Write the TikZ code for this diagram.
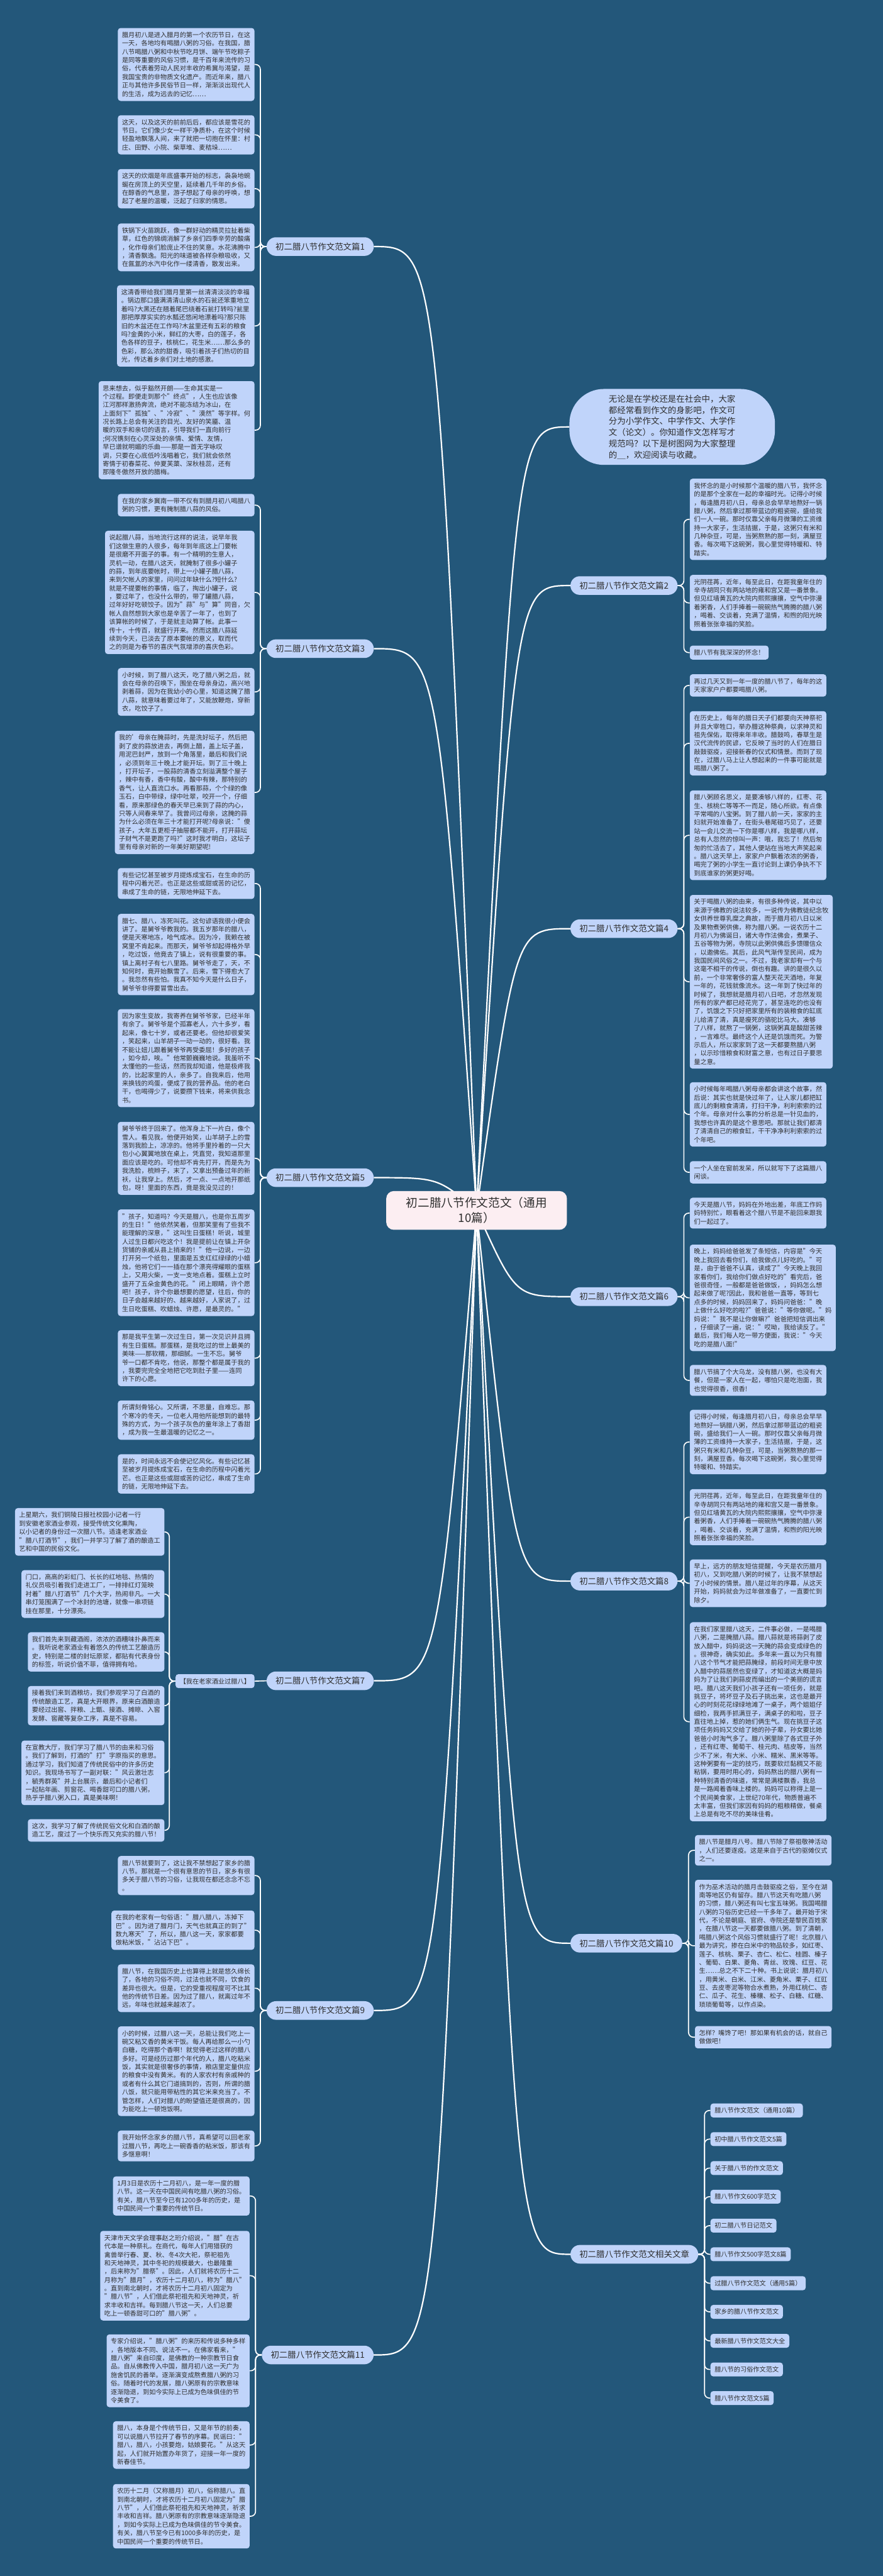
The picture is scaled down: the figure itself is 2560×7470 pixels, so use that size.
\documentclass[tikz,border=0pt]{standalone}
\usepackage{fontspec}
\setmainfont{Noto Sans CJK SC}
\usetikzlibrary{positioning}
\definecolor{bgblue}{HTML}{23577A}
\definecolor{leafblue}{HTML}{C0D4FA}
\definecolor{rootpink}{HTML}{FCEEF2}
\definecolor{ink}{HTML}{2E2E2E}
\pgfdeclarelayer{back}
\pgfsetlayers{back,main}
\tikzset{
  leaf/.style={fill=leafblue, rounded corners=8pt, align=left, inner xsep=12pt,
    inner ysep=11.5pt, text=ink, font=\fontsize{18.6}{24.4}\selectfont},
  branch/.style={fill=leafblue, rounded corners=27pt, minimum height=54pt,
    inner xsep=26pt, inner ysep=0pt, text=ink, font=\fontsize{24.5}{30}\selectfont},
  root/.style={fill=rootpink, rounded corners=22pt, text width=420pt, align=center,
    inner xsep=52pt, inner ysep=18pt, text=ink, font=\fontsize{34}{44}\selectfont},
  link/.style={draw=white, line width=4pt},
  twig/.style={draw=white, line width=3pt, rounded corners=14pt},
}

\begin{document}
\begin{tikzpicture}[x=1pt,y=-1pt]
\useasboundingbox (0,0) rectangle (2560,7470);

% centre and first level
\node[root] (R) at (1382,3510) {初二腊八节作文范文（通用\\10篇）};
\node[fill=leafblue, rounded corners=100pt, text width=368pt, align=left,
  inner xsep=114pt, inner ysep=17pt, text=ink, font=\fontsize{24.5}{32.5}\selectfont,
  anchor=west] (I) at (1651,1238)
  {无论是在学校还是在社会中，大家\\都经常看到作文的身影吧，作文可\\分为小学作文、中学作文、大学作\\文（论文）。你知道作文怎样写才\\规范吗？以下是树图网为大家整理\\的＿，欢迎阅读与收藏。};

\node[branch, anchor=west] (B1)  at (773,715)  {初二腊八节作文范文篇1};
\node[branch, anchor=west] (B3)  at (773,1881) {初二腊八节作文范文篇3};
\node[branch, anchor=west] (B5)  at (773,3415) {初二腊八节作文范文篇5};
\node[branch, anchor=west] (B7)  at (773,4874) {初二腊八节作文范文篇7};
\node[branch, anchor=west] (B9)  at (773,5830) {初二腊八节作文范文篇9};
\node[branch, anchor=west] (B11) at (759,6829) {初二腊八节作文范文篇11};
\node[branch, anchor=west] (B2)  at (1654,1698) {初二腊八节作文范文篇2};
\node[branch, anchor=west] (B4)  at (1654,2693) {初二腊八节作文范文篇4};
\node[branch, anchor=west] (B6)  at (1654,3760) {初二腊八节作文范文篇6};
\node[branch, anchor=west] (B8)  at (1654,4585) {初二腊八节作文范文篇8};
\node[branch, anchor=west] (B10) at (1654,5635) {初二腊八节作文范文篇10};
\node[branch, anchor=west] (BX)  at (1654,6537) {初二腊八节作文范文相关文章};

% essay 1
\node[leaf, anchor=north east] (L1a) at (738,81) {腊月初八是进入腊月的第一个农历节日，在这\\一天，各地均有喝腊八粥的习俗。在我国，腊\\八节喝腊八粥和中秋节吃月饼、端午节吃粽子\\是同等重要的风俗习惯，是千百年来流传的习\\俗，代表着劳动人民对丰收的希冀与渴望，是\\我国宝贵的非物质文化遗产。而近年来，腊八\\正与其他许多民俗节日一样，渐渐淡出现代人\\的生活，成为远去的记忆……};
\node[leaf, anchor=north east] (L1b) at (738,334) {这天，以及这天的前前后后，都应该是雪花的\\节日。它们像少女一样干净质朴，在这个时候\\轻盈地飘落人间，来了就把一切抱在怀里：村\\庄、田野、小院、柴草堆、麦秸垛……};
\node[leaf, anchor=north east] (L1c) at (738,490) {这天的炊烟是年底盛事开始的标志，袅袅地蜿\\蜒在房顶上的天空里，延续着几千年的乡俗。\\在醇香的气息里，游子想起了母亲的呼唤，想\\起了老屋的温暖，泛起了归家的情思。};
\node[leaf, anchor=north east] (L1d) at (738,648) {铁锅下火苗跳跃，像一群好动的精灵拉扯着柴\\草，红色的锦绸消解了乡亲们四季辛劳的酸痛\\，化作母亲们脸庞止不住的笑意。水花沸腾中\\，清香飘逸。阳光的味道被各样杂粮吸收，又\\在氤氲的水汽中化作一缕清香，散发出来。};
\node[leaf, anchor=north east] (L1e) at (738,827) {这清香带给我们腊月里第一丝清清淡淡的幸福\\。锅边那口盛满清清山泉水的石瓮还笨重地立\\着吗?大黑还在翘着尾巴绕着石瓮打转吗?瓮里\\那把厚厚实实的水瓢还悠闲地漂着吗?那只陈\\旧的木盆还在工作吗?木盆里还有五彩的粮食\\吗?金黄的小米，鲜红的大枣，白的莲子，各\\色各样的豆子，核桃仁，花生米……那么多的\\色彩，那么浓的甜香，吸引着孩子们热切的目\\光，传达着乡亲们对土地的感激。};
\node[leaf, anchor=north east] (L1f) at (738,1105) {思来想去，似乎豁然开朗——生命其实是一\\个过程。即便走到那个"终点"，人生也应该像\\江河那样激扬奔流，绝对不能冻结为冰山，在\\上面刻下"孤独"、"冷寂"、"漠然"等字样。何\\况长路上总会有关注的目光、友好的笑靥、温\\暖的双手和亲切的语言，引导我们一直向前行\\;何况镌刻在心灵深处的亲情、爱情、友情，\\早已谱就明媚的乐曲——那是一首无字咏叹\\调，只要在心底低吟浅唱着它，我们就会依然\\寄情于初春菜花、仲夏芙蕖、深秋桂蕊，还有\\那隆冬傲然开放的腊梅。};

% essay 3
\node[leaf, anchor=north east] (L3a) at (738,1432) {在我的家乡冀南一带不仅有到腊月初八喝腊八\\粥的习惯，更有腌制腊八蒜的风俗。};
\node[leaf, anchor=north east] (L3b) at (738,1539) {说起腊八蒜，当地流行这样的说法，说早年我\\们这做生意的人很多，每年到年底这上门要帐\\是很磨不开面子的事。有一个精明的生意人，\\灵机一动，在腊八这天，就腌制了很多小罐子\\的蒜，到年底要帐时，带上一小罐子腊八蒜，\\来到欠帐人的家里，问问过年缺什么?短什么?\\就是不提要帐的事情，临了，掏出小罐子，说\\，要过年了，也没什么带的，带了罐腊八蒜，\\过年好好吃顿饺子。因为"蒜"与"算"同音，欠\\帐人自然想到大家也是辛苦了一年了，也到了\\该算帐的时候了，于是就主动算了帐。此事一\\传十，十传百，就盛行开来。然而这腊八蒜延\\续到今天，已淡去了原本要帐的意义，取而代\\之的则是为春节的喜庆气氛增添的喜庆色彩。};
\node[leaf, anchor=north east] (L3c) at (738,1937) {小时候，到了腊八这天，吃了腊八粥之后，就\\会在母亲的召唤下，围坐在母亲身边，高兴地\\剥着蒜，因为在我幼小的心里，知道这腌了腊\\八蒜，就意味着要过年了，又能放鞭炮，穿新\\衣，吃饺子了。};
\node[leaf, anchor=north east] (L3d) at (738,2119) {我的'母亲在腌蒜时，先是洗好坛子，然后把\\剥了皮的蒜放进去，再倒上醋，盖上坛子盖，\\用泥巴封严，放到一个角落里，最后和我们说\\，必须到年三十晚上才能开坛。到了三十晚上\\，打开坛子，一股蒜的清香立刻溢满整个屋子\\，辣中有香，香中有酸，酸中有辣，那特别的\\香气，让人直流口水。再看那蒜，个个绿的像\\玉石，白中带绿，绿中吐翠，咬开一个，仔细\\看，原来那绿色的春天早已来到了蒜的内心，\\只等人间春来早了。我曾问过母亲，这腌的蒜\\为什么必须在年三十才能打开呢?母亲说："傻\\孩子，大年五更柜子抽屉都不能开，打开蒜坛\\子财气不是更跑了吗?"这时我才明白，这坛子\\里有母亲对新的一年美好期望呢!};

% essay 5
\node[leaf, anchor=north east] (L5a) at (738,2517) {有些记忆甚至被岁月提炼成宝石，在生命的历\\程中闪着光芒。也正是这些或甜或苦的记忆，\\串成了生命的链，无限地伸延下去。};
\node[leaf, anchor=north east] (L5b) at (738,2650) {腊七、腊八，冻死叫花。这句谚语我很小便会\\讲了。是舅爷爷教我的。我五岁那年的腊八，\\便是天寒地冻，哈气成冰。因为冷，我赖在被\\窝里不肯起来。而那天，舅爷爷却起得格外早\\，吃过饭，他竟去了镇上，说有很重要的事。\\镇上离村子有七八里路。舅爷爷走了，天，不\\知何时，竟开始飘雪了。后来，雪下得愈大了\\。我忽然有些怕。我真不知今天是什么日子，\\舅爷爷非得要冒雪出去。};
\node[leaf, anchor=north east] (L5c) at (738,2926) {因为家生变故，我寄养在舅爷爷家，已经半年\\有余了。舅爷爷是个孤寡老人，六十多岁，看\\起来，像七十岁，或者还要老。但他却很爱笑\\，笑起来，山羊胡子一动一动的，很好看。我\\不能让妞儿跟着舅爷爷再受委屈！多好的孩子\\，如今却，唉。"他常颤巍巍地说。我虽听不\\太懂他的一些话，然而我却知道，他是极疼我\\的，比起家里的人，亲多了。自我来后，他用\\来换钱的鸡蛋，便成了我的营养品。他的老白\\干，也喝得少了，说要攒下钱来，将来供我念\\书。};
\node[leaf, anchor=north east] (L5d) at (738,3253) {舅爷爷终于回来了。他浑身上下一片白，像个\\雪人。看见我，他便开始笑，山羊胡子上的雪\\落到我脸上，凉凉的。他将手里拎着的一只大\\包小心翼翼地放在桌上，凭直觉，我知道那里\\面应该是吃的。可他却不肯先打开，而是先为\\我洗脸，梳辫子，末了，又拿出预备过年的新\\袄，让我穿上。然后，才一点、一点地开那纸\\包，呀！里面的东西，竟是我没见过的！};
\node[leaf, anchor=north east] (L5e) at (738,3507) {"孩子，知道吗？今天是腊八，也是你五周岁\\的生日！"他依然笑着，但那笑里有了些我不\\能理解的深意，"这叫生日蛋糕！听说，城里\\人过生日都兴吃这个！我是提前让在镇上开杂\\货铺的亲戚从县上捎来的！"他一边说，一边\\打开另一个纸包，里面是五支红红绿绿的小蜡\\烛，他将它们一一插在那个漂亮得耀眼的蛋糕\\上，又用火柴，一支一支地点着。蛋糕上立时\\盛开了五朵金黄色的花。"闭上眼睛，许个愿\\吧！孩子，许个你最想要的愿望，往后，你的\\日子会越来越好的、越来越好，人家说了，过\\生日吃蛋糕、吹蜡烛、许愿，是最灵的。"};
\node[leaf, anchor=north east] (L5f) at (738,3857) {那是我平生第一次过生日，第一次见识并且拥\\有生日蛋糕。那蛋糕，是我吃过的世上最美的\\美味——那软糯，那细腻。一生不忘。舅爷\\爷一口都不肯吃，他说，那整个都是属于我的\\，我要完完全全地把它吃到肚子里——连同\\许下的心愿。};
\node[leaf, anchor=north east] (L5g) at (738,4061) {所谓刻骨铭心。又所谓，不思量，自难忘。那\\个寒冷的冬天，一位老人用他所能想到的最特\\殊的方式，为一个孩子灰色的童年涂上了香甜\\，成为我一生最温暖的记忆之一。};
\node[leaf, anchor=north east] (L5h) at (738,4217) {是的，时间永远不会使记忆风化。有些记忆甚\\至被岁月提炼成宝石，在生命的历程中闪着光\\芒。也正是这些或甜或苦的记忆，串成了生命\\的链，无限地伸延下去。};

% essay 7
\node[leaf, anchor=east] (S7) at (738,4875) {【我在老家酒业过腊八】};
\node[leaf, anchor=north east] (L7a) at (477,4373) {上星期六，我们铜陵日报社校园小记者一行\\到安徽老家酒业参观，接受传统文化熏陶，\\以小记者的身份过一次腊八节。适逢老家酒业\\"腊八打酒节"，我们一并学习了解了酒的酿造工\\艺和中国的民俗文化。};
\node[leaf, anchor=north east] (L7b) at (477,4553) {门口，高高的彩虹门、长长的红地毯、热情的\\礼仪员吸引着我们走进工厂，一排排红灯笼映\\衬着"腊八打酒节"几个大字，热闹非凡。一大\\串灯笼围满了一个冰封的池塘，就像一串项链\\挂在那里，十分漂亮。};
\node[leaf, anchor=north east] (L7c) at (477,4733) {我们首先来到藏酒阁，浓浓的酒糟味扑鼻而来\\。我听说老家酒业有着悠久的传统工艺酿造历\\史，特别是二楼的封坛原浆，都贴有代表身份\\的标签，听说价值不菲，值得拥有哈。};
\node[leaf, anchor=north east] (L7d) at (477,4889) {接着我们来到酒粮坊，我们参观学习了白酒的\\传统酿造工艺，真是大开眼界，原来白酒酿造\\要经过出窖、拌粮、上甑、接酒、摊晾、入窖\\发酵、窖藏等复杂工序，真是不容易。};
\node[leaf, anchor=north east] (L7e) at (477,5047) {在宣教大厅，我们学习了腊八节的由来和习俗\\。我们了解到，打酒的"打"字原指买的意思。\\通过学习，我们知道了传统民俗中的许多历史\\知识。我现场书写了一副对联："风云激壮志\\，毓秀群英"并上台展示，最后和小记者们\\一起贴年画、剪窗花、喝香甜可口的腊八粥，\\热乎乎腊八粥入口，真是美味啊！};
\node[leaf, anchor=north east] (L7f) at (477,5275) {这次，我学习了解了传统民俗文化和白酒的酿\\造工艺，度过了一个快乐而又充实的腊八节！};

% essay 9
\node[leaf, anchor=north east] (L9a) at (738,5382) {腊八节就要到了，这让我不禁想起了家乡的腊\\八节。那就是一个很有意思的节日，家乡有很\\多关于腊八节的习俗，让我现在都还念念不忘\\。};
\node[leaf, anchor=north east] (L9b) at (738,5540) {在我的老家有一句俗语："腊八腊八，冻掉下\\巴"。因为进了腊月门，天气也就真正的到了"\\数九寒天"了，所以，腊八这一天，家家都要\\做粘米饭，"沾沾下巴"。};
\node[leaf, anchor=north east] (L9c) at (738,5696) {腊八节，在我国历史上也算得上就是悠久绵长\\了，各地的习俗不同，过法也就不同，饮食的\\差异也很大。但是，它的受重视程度可不比其\\他的传统节日差。因为过了腊八，就离过年不\\远，年味也就越来越浓了。};
\node[leaf, anchor=north east] (L9d) at (738,5876) {小的时候，过腊八这一天，总能让我们吃上一\\碗又粘又香的黄米干饭。每人再给那么一小勺\\白糖，吃得那个香啊！就觉得老过这样的腊八\\多好。可是经历过那个年代的人，腊八吃粘米\\饭，其实就是很奢侈的事情，粮店里定量供应\\的粮食中没有黄米。有的人家农村有亲戚种的\\或者有什么其它门道搞到的，否则，所谓的腊\\八饭，就只能用带粘性的其它米来充当了。不\\管怎样，人们对腊八的盼望值还是很高的，因\\为能吃上一顿饱饭啊。};
\node[leaf, anchor=north east] (L9e) at (738,6178) {我开始怀念家乡的腊八节，真希望可以回老家\\过腊八节，再吃上一碗香香的粘米饭，那该有\\多惬意啊！};

% essay 11
\node[leaf, anchor=north east] (L11a) at (724,6311) {1月3日是农历十二月初八，是一年一度的腊\\八节。这一天在中国民间有吃腊八粥的习俗。\\有关，腊八节至今已有1200多年的历史，是\\中国民间一个重要的传统节日。};
\node[leaf, anchor=north east] (L11b) at (724,6469) {天津市天文学会理事赵之珩介绍说，"腊"在古\\代本是一种祭礼。在商代，每年人们用猎获的\\禽兽举行春、夏、秋、冬4次大祀，祭祀祖先\\和天地神灵，其中冬祀的规模最大，也最隆重\\，后来称为"腊祭"。因此，人们就将农历十二\\月称为"腊月"，农历十二月初八，称为"腊八"\\。直到南北朝时，才将农历十二月初八固定为\\"腊八节"，人们借此祭祀祖先和天地神灵，祈\\求丰收和吉祥。每到腊八节这一天，人们总要\\吃上一顿香甜可口的"腊八粥"。};
\node[leaf, anchor=north east] (L11c) at (724,6769) {专家介绍说，"腊八粥"的来历和传说多种多样\\，各地版本不同、说法不一。在佛家看来，"\\腊八粥"来自印度，是佛教的一种宗教节日食\\品。自从佛教传入中国，腊月初八这一天广为\\施舍饥民的善举。逐渐演变成熬煮腊八粥的习\\俗。随着时代的发展，腊八粥原有的宗教意味\\逐渐隐退，到如今实际上已成为色味俱佳的节\\令美食了。};
\node[leaf, anchor=north east] (L11d) at (724,7021) {腊八，本身是个传统节日，又是年节的前奏，\\可以说腊八节拉开了春节的序幕。民谣曰："\\腊八，腊八，小孩要炮，姑娘要花。"从这天\\起，人们就开始置办年货了，迎接一年一度的\\新春佳节。};
\node[leaf, anchor=north east] (L11e) at (724,7203) {农历十二月（又称腊月）初八，俗称腊八。直\\到南北朝时，才将农历十二月初八固定为"腊\\八节"，人们借此祭祀祖先和天地神灵，祈求\\丰收和吉祥。腊八粥原有的宗教意味逐渐隐退\\，到如今实际上已成为色味俱佳的节令美食。\\有关，腊八节至今已有1000多年的历史，是\\中国民间一个重要的传统节日。};

% essay 2
\node[leaf, anchor=north west] (R2a) at (2000,1388) {我怀念的是小时候那个温暖的腊八节，我怀念\\的是那个全家在一起的幸福时光。记得小时候\\，每逢腊月初八日，母亲总会早早地熬好一锅\\腊八粥，然后拿过那带蓝边的粗瓷碗，盛给我\\们一人一碗。那时仅靠父亲每月微薄的工资维\\持一大家子，生活拮据，于是，这粥只有米和\\几种杂豆，可是，当粥熬熟的那一刻，满屋豆\\香。每次喝下这碗粥，我心里觉得特暖和、特\\踏实。};
\node[leaf, anchor=north west] (R2b) at (2000,1667) {光阴荏苒，近年，每至此日，在距我童年住的\\辛寺胡同只有两站地的雍和宫又是一番景象。\\但见红墙黄瓦的大院内熙熙攘攘，空气中弥漫\\着粥香，人们手捧着一碗碗热气腾腾的腊八粥\\，喝着、交谈着，充满了温情，和煦的阳光映\\照着张张幸福的笑脸。};
\node[leaf, anchor=north west] (R2c) at (2000,1872) {腊八节有我深深的怀念！};

% essay 4
\node[leaf, anchor=north west] (R4a) at (2000,1955) {再过几天又到一年一度的腊八节了，每年的这\\天家家户户都要喝腊八粥。};
\node[leaf, anchor=north west] (R4b) at (2000,2062) {在历史上，每年的腊日天子们都要向天神祭祀\\并且大宰牲口，举办腊这种祭典，以求神灵和\\祖先保佑，取得来年丰收。腊鼓鸣，春草生是\\汉代流传的民谚，它反映了当时的人们在腊日\\敲鼓驱疫，迎接新春的仪式和情景。而到了现\\在，过腊八马上让人想起来的一件事可能就是\\喝腊八粥了。};
\node[leaf, anchor=north west] (R4c) at (2000,2292) {腊八粥顾名思义，是要凑够八样的，红枣、花\\生、核桃仁等等不一而足，随心所欲。有点像\\平常喝的八宝粥。到了腊八前一天，家家的主\\妇就开始准备了，在街头巷尾碰巧见了，还要\\站一会儿交流一下你是哪八样，我是哪八样，\\总有人忽然的惊叫一声：哦，我忘了！然后匆\\匆的忙活去了，其他人便站在当地大声笑起来\\。腊八这天早上，家家户户飘着浓浓的粥香，\\喝完了粥的小学生一直讨论到上课仍争执不下\\到底谁家的粥更好喝。};
\node[leaf, anchor=north west] (R4d) at (2000,2595) {关于喝腊八粥的由来，有很多种传说，其中以\\来源于佛教的说法较多，一说传为佛教徒纪念牧\\女供养世尊乳糜之典故，而于腊月初八日以米\\及果物煮粥供佛，称为腊八粥。一说农历十二\\月初八为佛诞日，诸大寺作法佛会，煮果子、\\五谷等物为粥，寺院以此粥供佛后多馈赠信众\\，以邀佛佑。其后，此风气渐传至民间，成为\\我国民间风俗之一。不过，我老家却有一个与\\这毫不相干的传说，倒也有趣。讲的是很久以\\前，一个非常奢侈的富人整天花天酒地，年复\\一年的，花钱就像流水。这一年到了快过年的\\时候了，我想就是腊月初八日吧，才忽然发现\\所有的家产都已经花完了，甚至连吃的也没有\\了，饥饿之下只好把家里所有的装粮食的缸底\\儿给清了清，真是瘦死的骆驼比马大。凑够\\了八样，就熬了一锅粥，这锅粥真是酸甜苦辣\\，一言难尽。最终这个人还是饥饿而死。为警\\示后人，所以家家到了这一天都要熬腊八粥\\，以示珍惜粮食和财富之意，也有过日子要思\\量之意。};
\node[leaf, anchor=north west] (R4e) at (2000,3138) {小时候每年喝腊八粥母亲都会讲这个故事，然\\后说：其实也就是快过年了，让人家儿都把缸\\底儿的剩粮食清清，打扫干净，利利索索的过\\个年。母亲对什么事的分析总是一针见血的，\\我想也许真的是这个意思吧。那就让我们都清\\了清清自己的粮食缸，干干净净利利索索的过\\个年吧。};
\node[leaf, anchor=north west] (R4f) at (2000,3367) {一个人坐在窗前发呆，所以就写下了这篇腊八\\闲谈。};

% essay 6
\node[leaf, anchor=north west] (R6a) at (2000,3473) {今天是腊八节，妈妈在外地出差，年底工作妈\\妈特别忙，眼看着这个腊八节是不能回来跟我\\们一起过了。};
\node[leaf, anchor=north west] (R6b) at (2000,3609) {晚上，妈妈给爸爸发了条短信，内容是"今天\\晚上我回去看你们，给我做点儿好吃的。"可\\是，由于爸爸不认真，读成了"今天晚上我回\\家看你们，我给你们做点好吃的"看完后，爸\\爸很奇怪，一般都是爸爸做饭，，妈妈怎么想\\起来做了呢?因此，我和爸爸一直等，等到七\\点多的时候，妈妈回来了，妈妈问爸爸："晚\\上做什么好吃的啦?"爸爸说："等你做呢。"妈\\妈说："我不是让你做嘛?"爸爸把短信调出来\\，仔细读了一遍，说："哎呦，我给读反了。"\\最后，我们每人吃一带方便面，我说："今天\\吃的是腊八面!"};
\node[leaf, anchor=north west] (R6c) at (2000,3958) {腊八节搞了个大乌龙，没有腊八粥，也没有大\\餐，但是一家人在一起，哪怕只是吃泡面，我\\也觉得很香，很香!};

% essay 8
\node[leaf, anchor=north west] (R8a) at (2000,4088) {记得小时候，每逢腊月初八日，母亲总会早早\\地熬好一锅腊八粥，然后拿过那带蓝边的粗瓷\\碗，盛给我们一人一碗。那时仅靠父亲每月微\\薄的工资维持一大家子，生活拮据，于是，这\\粥只有米和几种杂豆，可是，当粥熬熟的那一\\刻，满屋豆香。每次喝下这碗粥，我心里觉得\\特暖和、特踏实。};
\node[leaf, anchor=north west] (R8b) at (2000,4318) {光阴荏苒，近年，每至此日，在距我童年住的\\辛寺胡同只有两站地的雍和宫又是一番景象。\\但见红墙黄瓦的大院内熙熙攘攘，空气中弥漫\\着粥香，人们手捧着一碗碗热气腾腾的腊八粥\\，喝着、交谈着，充满了温情，和煦的阳光映\\照着张张幸福的笑脸。};
\node[leaf, anchor=north west] (R8c) at (2000,4522) {早上，远方的朋友短信提醒，今天是农历腊月\\初八，又到吃腊八粥的时候了，让我不禁想起\\了小时候的情景。腊八是过年的序幕，从这天\\开始，妈妈就会为过年做准备了，一直要忙到\\除夕。};
\node[leaf, anchor=north west] (R8d) at (2000,4704) {在我们家里腊八这天，二件事必做，一是喝腊\\八粥，二是腌腊八蒜。腊八蒜就是将蒜剥了皮\\放入醋中，妈妈说这一天腌的蒜会变成绿色的\\。很神奇，确实如此。多年来一直以为只有腊\\八这个节气才能把蒜腌绿，前段时间无意中放\\入醋中的蒜居然也变绿了，才知道这大概是妈\\妈为了让我们剥蒜皮而编出的一个美丽的谎言\\吧。腊八这天我们小孩子还有一项任务，就是\\挑豆子，将坏豆子及石子挑出来，这也是最开\\心的时刻花花绿绿地滩了一桌子，两个姐姐仔\\细检，我两手抓满豆子，满桌子的和啦，豆子\\直往地上掉，惹的她们俩生气。现在挑豆子这\\项任务妈妈又交给了她的孙子辈，孙女要比她\\爸爸小时淘气多了。腊八粥里除了各式豆子外\\，还有红枣、葡萄干、桂元肉、桔皮等，当然\\少不了米，有大米、小米、糯米、黑米等等。\\这种粥要有一定的技巧，既要软烂黏稠又不能\\粘锅，要用时用心的，妈妈熬出的腊八粥有一\\种特别清香的味道，常常是满楼飘香，我总\\是一路闻着香味上楼的。妈妈可以称得上是一\\个民间美食家，上世纪70年代，物质普遍不\\太丰富，但我们家因有妈妈的粗粮精做，餐桌\\上总是有吃不尽的美味佳肴。};

% essay 10
\node[leaf, anchor=north west] (R10a) at (2015,5321) {腊八节是腊月八号。腊八节除了祭祖敬神活动\\，人们还要逐疫。这是来自于古代的驱傩仪式\\之一。};
\node[leaf, anchor=north west] (R10b) at (2015,5451) {作为巫术活动的腊月击鼓驱疫之俗，至今在湖\\南等地区仍有留存。腊八节这天有吃腊八粥\\的习惯，腊八粥还有叫七宝五味粥。我国喝腊\\八粥的习俗历史已经一千多年了。最开始于宋\\代，不论是朝庭、官府、寺院还是黎民百姓家\\，在腊八节这一天都要做腊八粥。到了清朝，\\喝腊八粥这个风俗习惯就盛行了呢！北京腊八\\最为讲究，掺在白米中的物品较多，如红枣、\\莲子、核桃、栗子、杏仁、松仁、桂圆、榛子\\、葡萄、白果、菱角、青丝、玫瑰、红豆、花\\生……总之不下二十种。书上说说：腊月初八\\，用黄米、白米、江米、菱角米、栗子、红豇\\豆、去皮枣泥等物合水煮熟，外用红桃仁、杏\\仁、瓜子、花生、榛穰、松子、白糖、红糖、\\琐琐葡萄等，以作点染。};
\node[leaf, anchor=north west] (R10c) at (2015,5875) {怎样？嘴馋了吧！那如果有机会的话，就自己\\做做吧！};

% related articles
\node[leaf, anchor=west] (X1)  at (2060,6120) {腊八节作文范文（通用10篇）};
\node[leaf, anchor=west] (X2)  at (2060,6203) {初中腊八节作文范文5篇};
\node[leaf, anchor=west] (X3)  at (2060,6287) {关于腊八节的作文范文};
\node[leaf, anchor=west] (X4)  at (2060,6370) {腊八节作文600字范文};
\node[leaf, anchor=west] (X5)  at (2060,6454) {初二腊八节日记范文};
\node[leaf, anchor=west] (X6)  at (2060,6537) {腊八节作文500字范文8篇};
\node[leaf, anchor=west] (X7)  at (2060,6621) {过腊八节作文范文（通用5篇）};
\node[leaf, anchor=west] (X8)  at (2060,6704) {家乡的腊八节作文范文};
\node[leaf, anchor=west] (X9)  at (2060,6788) {最新腊八节作文范文大全};
\node[leaf, anchor=west] (X10) at (2060,6871) {腊八节的习俗作文范文};
\node[leaf, anchor=west] (X11) at (2060,6954) {腊八节作文范文5篇};

\begin{pgfonlayer}{back}
\fill[bgblue] (0,0) rectangle (2560,7470);
% first level
\draw[link] (R.center) .. controls (1270,715)  .. (B1.east);
\draw[link] (R.center) .. controls (1270,1881) .. (B3.east);
\draw[link] (R.center) .. controls (1270,3415) .. (B5.east);
\draw[link] (R.center) .. controls (1270,4874) .. (B7.east);
\draw[link] (R.center) .. controls (1270,5830) .. (B9.east);
\draw[link] (R.center) .. controls (1270,6829) .. (B11.east);
\draw[link] (R.center) .. controls (1495,1238) .. (I.west);
\draw[link] (R.center) .. controls (1495,1698) .. (B2.west);
\draw[link] (R.center) .. controls (1495,2693) .. (B4.west);
\draw[link] (R.center) .. controls (1495,3760) .. (B6.west);
\draw[link] (R.center) .. controls (1495,4585) .. (B8.west);
\draw[link] (R.center) .. controls (1495,5635) .. (B10.west);
\draw[link] (R.center) .. controls (1495,6537) .. (BX.west);
% second level
\foreach \c in {L1a,L1b,L1c,L1d,L1e,L1f}
  \draw[twig] (B1.west) -- ++(-18,0) |- (\c.east);
\foreach \c in {L3a,L3b,L3c,L3d}
  \draw[twig] (B3.west) -- ++(-18,0) |- (\c.east);
\foreach \c in {L5a,L5b,L5c,L5d,L5e,L5f,L5g,L5h}
  \draw[twig] (B5.west) -- ++(-18,0) |- (\c.east);
\draw[twig] (B7.west) -- (S7.east);
\foreach \c in {L7a,L7b,L7c,L7d,L7e,L7f}
  \draw[twig] (S7.west) -- ++(-18,0) |- (\c.east);
\foreach \c in {L9a,L9b,L9c,L9d,L9e}
  \draw[twig] (B9.west) -- ++(-18,0) |- (\c.east);
\foreach \c in {L11a,L11b,L11c,L11d,L11e}
  \draw[twig] (B11.west) -- ++(-18,0) |- (\c.east);
\foreach \c in {R2a,R2b,R2c}
  \draw[twig] (B2.east) -- ++(18,0) |- (\c.west);
\foreach \c in {R4a,R4b,R4c,R4d,R4e,R4f}
  \draw[twig] (B4.east) -- ++(18,0) |- (\c.west);
\foreach \c in {R6a,R6b,R6c}
  \draw[twig] (B6.east) -- ++(18,0) |- (\c.west);
\foreach \c in {R8a,R8b,R8c,R8d}
  \draw[twig] (B8.east) -- ++(18,0) |- (\c.west);
\foreach \c in {R10a,R10b,R10c}
  \draw[twig] (B10.east) -- ++(18,0) |- (\c.west);
\foreach \c in {X1,X2,X3,X4,X5,X6,X7,X8,X9,X10,X11}
  \draw[twig] (BX.east) -- ++(18,0) |- (\c.west);
\end{pgfonlayer}
\end{tikzpicture}
\end{document}
